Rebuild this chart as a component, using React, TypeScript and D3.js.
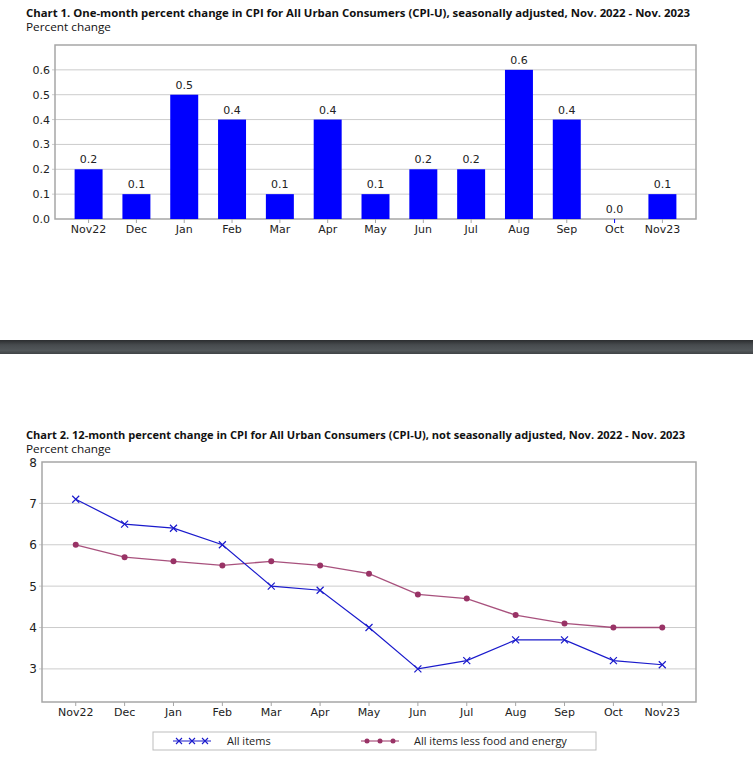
import * as d3 from 'd3';
import { useLayoutEffect, useRef } from 'react';

const months = ['Nov22', 'Dec', 'Jan', 'Feb', 'Mar', 'Apr', 'May', 'Jun', 'Jul', 'Aug', 'Sep', 'Oct', 'Nov23'];
const monthlyChange = [0.2, 0.1, 0.5, 0.4, 0.1, 0.4, 0.1, 0.2, 0.2, 0.6, 0.4, 0.0, 0.1];
const allItems = [7.1, 6.5, 6.4, 6.0, 5.0, 4.9, 4.0, 3.0, 3.2, 3.7, 3.7, 3.2, 3.1];
const coreItems = [6.0, 5.7, 5.6, 5.5, 5.6, 5.5, 5.3, 4.8, 4.7, 4.3, 4.1, 4.0, 4.0];
const barTicks = [0, 0.1, 0.2, 0.3, 0.4, 0.5, 0.6];
const lineTicks = [3, 4, 5, 6, 7, 8];

const title1 = 'Chart 1. One-month percent change in CPI for All Urban Consumers (CPI-U), seasonally adjusted, Nov. 2022 - Nov. 2023';
const title2 = 'Chart 2. 12-month percent change in CPI for All Urban Consumers (CPI-U), not seasonally adjusted, Nov. 2022 - Nov. 2023';
const legendLabels = ['All items', 'All items less food and energy'];

const W = 753;
const H = 767;
const FONT = "'DejaVu Sans', Verdana, sans-serif";
const TITLE_FONT = "'Open Sans', 'Liberation Sans', sans-serif";
const BLUE = '#0000ff';
const LINE_BLUE = '#1a1acc';
const MAROON = '#993366';
const GRID = '#cccccc';
const FRAME = '#a6a6a6';

const App = () => {
  const ref = useRef(null);

  useLayoutEffect(() => {
    const svg = d3.select(ref.current);
    svg.selectAll('*').remove();

    svg.append('rect').attr('width', W).attr('height', H).attr('fill', '#fff');

    const heading = (g, t, x, y, len) =>
      g
        .append('text')
        .attr('x', x)
        .attr('y', y)
        .attr('font-family', TITLE_FONT)
        .attr('font-size', 10.5)
        .attr('font-weight', 'bold')
        .attr('textLength', len)
        .attr('lengthAdjust', 'spacingAndGlyphs')
        .attr('fill', '#111')
        .text(t);
    const sub = (g, y) =>
      g
        .append('text')
        .attr('x', 26)
        .attr('y', y)
        .attr('font-family', TITLE_FONT)
        .attr('font-size', 10.5)
        .attr('textLength', 85)
        .attr('lengthAdjust', 'spacingAndGlyphs')
        .attr('fill', '#111')
        .text('Percent change');

    // ---- chart 1: bars
    const m1 = { top: 45, right: 696, bottom: 219, left: 55 };
    const x1 = d3
      .scaleBand()
      .domain(months)
      .range([m1.left, m1.right])
      .paddingInner(0.415)
      .paddingOuter(0.41);
    const y1 = d3.scaleLinear().domain([0, 0.7]).range([m1.bottom, m1.top]);

    const c1 = svg.append('g');
    heading(c1, title1, 26, 16.5, 664);
    sub(c1, 31);

    c1.append('g')
      .selectAll('line')
      .data(barTicks.slice(1))
      .join('line')
      .attr('x1', m1.left - 3)
      .attr('x2', m1.right)
      .attr('y1', (d) => y1(d))
      .attr('y2', (d) => y1(d))
      .attr('stroke', GRID);

    c1.append('g')
      .selectAll('text')
      .data(barTicks)
      .join('text')
      .attr('x', m1.left - 5)
      .attr('y', (d) => y1(d) + 4)
      .attr('text-anchor', 'end')
      .attr('font-family', FONT)
      .attr('font-size', 11)
      .attr('fill', '#222')
      .text((d) => d3.format('.1f')(d));

    c1.append('rect')
      .attr('x', m1.left)
      .attr('y', m1.top)
      .attr('width', m1.right - m1.left)
      .attr('height', m1.bottom - m1.top)
      .attr('fill', 'none')
      .attr('stroke', FRAME)
      .attr('stroke-width', 1.5);

    const cx1 = (d) => x1(d) + x1.bandwidth() / 2;
    c1.append('g')
      .selectAll('line')
      .data(months)
      .join('line')
      .attr('x1', cx1)
      .attr('x2', cx1)
      .attr('y1', m1.bottom)
      .attr('y2', m1.bottom + 4)
      .attr('stroke', (d, i) => (monthlyChange[i] === 0 ? BLUE : FRAME));

    c1.append('g')
      .selectAll('rect')
      .data(monthlyChange)
      .join('rect')
      .attr('x', (d, i) => x1(months[i]))
      .attr('y', (d) => y1(d))
      .attr('width', x1.bandwidth())
      .attr('height', (d) => y1(0) - y1(d))
      .attr('fill', BLUE);

    c1.append('g')
      .selectAll('text')
      .data(monthlyChange)
      .join('text')
      .attr('x', (d, i) => cx1(months[i]))
      .attr('y', (d) => y1(d) - 6)
      .attr('text-anchor', 'middle')
      .attr('font-family', FONT)
      .attr('font-size', 11)
      .attr('fill', '#222')
      .text((d) => d3.format('.1f')(d));

    c1.append('g')
      .selectAll('text')
      .data(months)
      .join('text')
      .attr('x', cx1)
      .attr('y', m1.bottom + 14)
      .attr('text-anchor', 'middle')
      .attr('font-family', FONT)
      .attr('font-size', 11)
      .attr('fill', '#222')
      .text((d) => d);

    // ---- divider band
    const grad = svg
      .append('defs')
      .append('linearGradient')
      .attr('id', 'band')
      .attr('x1', 0)
      .attr('y1', 0)
      .attr('x2', 0)
      .attr('y2', 1);
    grad.append('stop').attr('offset', 0).attr('stop-color', '#2b2d2f');
    grad.append('stop').attr('offset', 0.35).attr('stop-color', '#474b4e');
    grad.append('stop').attr('offset', 0.75).attr('stop-color', '#52575a');
    grad.append('stop').attr('offset', 1).attr('stop-color', '#3f4346');
    svg.append('rect').attr('x', 0).attr('y', 340).attr('width', W).attr('height', 14).attr('fill', 'url(#band)');

    // ---- chart 2: lines
    const m2 = { top: 462, right: 696, bottom: 702, left: 42 };
    const x2 = d3.scalePoint().domain(months).range([m2.left, m2.right]).padding(0.69);
    const y2 = d3.scaleLinear().domain([2.2, 8]).range([m2.bottom, m2.top]);

    const c2 = svg.append('g');
    heading(c2, title2, 26, 438.5, 659);
    sub(c2, 453);

    c2.append('g')
      .selectAll('line')
      .data(lineTicks.slice(0, -1))
      .join('line')
      .attr('x1', m2.left - 3)
      .attr('x2', m2.right)
      .attr('y1', (d) => y2(d))
      .attr('y2', (d) => y2(d))
      .attr('stroke', GRID);

    c2.append('g')
      .selectAll('text')
      .data(lineTicks)
      .join('text')
      .attr('x', m2.left - 5)
      .attr('y', (d) => y2(d) + 4.5)
      .attr('text-anchor', 'end')
      .attr('font-family', FONT)
      .attr('font-size', 12)
      .attr('fill', '#222')
      .text((d) => d);

    c2.append('rect')
      .attr('x', m2.left)
      .attr('y', m2.top)
      .attr('width', m2.right - m2.left)
      .attr('height', m2.bottom - m2.top)
      .attr('fill', 'none')
      .attr('stroke', FRAME)
      .attr('stroke-width', 1.5);

    c2.append('g')
      .selectAll('line')
      .data(months)
      .join('line')
      .attr('x1', (d) => x2(d))
      .attr('x2', (d) => x2(d))
      .attr('y1', m2.bottom)
      .attr('y2', m2.bottom + 4)
      .attr('stroke', FRAME);

    c2.append('g')
      .selectAll('text')
      .data(months)
      .join('text')
      .attr('x', (d) => x2(d))
      .attr('y', m2.bottom + 14)
      .attr('text-anchor', 'middle')
      .attr('font-family', FONT)
      .attr('font-size', 11)
      .attr('fill', '#222')
      .text((d) => d);

    const line = d3
      .line()
      .x((d, i) => x2(months[i]))
      .y((d) => y2(d));

    const cross = (g, cx, cy, color) =>
      g
        .append('path')
        .attr('d', `M${cx - 3.5},${cy - 3.5}L${cx + 3.5},${cy + 3.5}M${cx - 3.5},${cy + 3.5}L${cx + 3.5},${cy - 3.5}`)
        .attr('stroke', color)
        .attr('stroke-width', 1.2);

    c2.append('path')
      .datum(coreItems)
      .attr('fill', 'none')
      .attr('stroke', MAROON)
      .attr('stroke-opacity', 0.85)
      .attr('stroke-width', 1.3)
      .attr('d', line);
    c2.append('g')
      .selectAll('circle')
      .data(coreItems)
      .join('circle')
      .attr('cx', (d, i) => x2(months[i]))
      .attr('cy', (d) => y2(d))
      .attr('r', 3)
      .attr('fill', MAROON);

    c2.append('path')
      .datum(allItems)
      .attr('fill', 'none')
      .attr('stroke', LINE_BLUE)
      .attr('stroke-width', 1.2)
      .attr('d', line);
    const marks = c2.append('g');
    allItems.forEach((d, i) => cross(marks, x2(months[i]), y2(d), LINE_BLUE));

    // legend
    const lg = svg.append('g');
    lg.append('rect')
      .attr('x', 153)
      .attr('y', 732)
      .attr('width', 443)
      .attr('height', 18)
      .attr('fill', '#fff')
      .attr('stroke', '#bdbdbd');
    const ly = 741;
    const legendSample = (sx, color, marker) => {
      lg.append('line')
        .attr('x1', sx)
        .attr('x2', sx + 38)
        .attr('y1', ly)
        .attr('y2', ly)
        .attr('stroke', color)
        .attr('stroke-width', 1.2);
      [6, 19, 32].forEach((o) => {
        if (marker === 'x') {
          lg.append('path')
            .attr('d', `M${sx + o - 3},${ly - 3}L${sx + o + 3},${ly + 3}M${sx + o - 3},${ly + 3}L${sx + o + 3},${ly - 3}`)
            .attr('stroke', color)
            .attr('stroke-width', 1.1);
        } else {
          lg.append('circle').attr('cx', sx + o).attr('cy', ly).attr('r', 2.5).attr('fill', color);
        }
      });
    };
    legendSample(173, LINE_BLUE, 'x');
    legendSample(361, MAROON, 'o');
    [
      [227, legendLabels[0]],
      [414, legendLabels[1]],
    ].forEach(([lx, t]) =>
      lg
        .append('text')
        .attr('x', lx)
        .attr('y', ly + 4)
        .attr('font-family', TITLE_FONT)
        .attr('font-size', 11)
        .attr('fill', '#222')
        .text(t),
    );
  }, []);

  return (
    <svg
      ref={ref}
      width={W}
      height={H}
      style={{ position: 'absolute', left: 0, top: 0, display: 'block' }}
    />
  );
};

export default App;
